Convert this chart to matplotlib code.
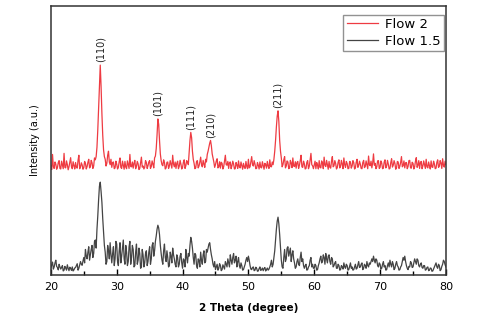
import numpy as np
import matplotlib
matplotlib.use("Agg")
import matplotlib.pyplot as plt
from matplotlib.ticker import MultipleLocator

# 2 theta grid, 0.125 degree step from 20 to 80
two_theta = np.linspace(20, 80, 481)

# Flow 2 (red, offset upwards), one row = 5 degrees
flow_2 = [
    40.5, 39.2, 44.8, 40.1, 39.6, 42.0, 41.2, 39.3, 40.0, 41.8, 42.5, 39.6, 39.4, 42.3, 40.8, 39.5, 45.2, 40.0, 39.8, 42.4,
    41.0, 39.1, 40.2, 41.9, 43.6, 40.3, 39.5, 42.1, 40.6, 39.4, 41.8, 40.0, 39.7, 42.6, 44.5, 39.5, 40.1, 41.7, 40.9, 39.3,
    39.9, 42.2, 41.5, 39.4, 40.3, 41.9, 43.0, 39.8, 40.2, 42.6, 41.7, 39.6, 40.5, 43.5, 42.8, 44.0, 47.5, 54.0, 62.0, 71.0,
    78.0, 70.0, 60.0, 52.0, 46.5, 44.0, 43.0, 40.5, 41.5, 44.5, 46.0, 42.0, 41.0, 43.0, 40.0, 41.8, 42.0, 39.5, 39.8, 42.3,
    41.2, 39.4, 40.0, 42.1, 43.5, 40.0, 39.6, 42.3, 40.8, 39.3, 42.2, 40.1, 39.5, 42.4, 41.0, 39.6, 44.8, 40.3, 40.2, 42.0,
    39.7, 41.5, 42.6, 39.5, 40.4, 42.2, 41.3, 39.2, 39.6, 41.8, 43.8, 40.1, 40.5, 39.4, 40.0, 42.5, 41.8, 39.6, 40.6, 42.0,
    42.5, 39.6, 40.3, 42.4, 41.2, 39.8, 43.5, 44.2, 47.0, 52.0, 58.0, 56.0, 50.0, 45.0, 42.5, 41.0, 40.6, 42.8, 41.8, 39.4,
    39.8, 41.9, 42.0, 39.6, 40.5, 42.5, 41.0, 39.7, 44.5, 41.2, 40.2, 42.0, 39.6, 41.5, 42.3, 39.5, 40.4, 42.6, 41.2, 39.4,
    40.0, 41.9, 42.8, 39.6, 40.6, 42.5, 42.0, 41.0, 45.5, 50.0, 53.0, 51.0, 46.0, 43.0, 41.5, 39.5, 39.8, 42.2, 42.5, 39.8,
    40.5, 42.0, 43.8, 41.0, 40.2, 42.6, 41.2, 40.0, 43.0, 42.0, 44.8, 46.0, 47.5, 49.0, 50.0, 48.0, 45.0, 43.5, 42.0, 40.0,
    41.0, 42.4, 43.2, 39.8, 40.2, 42.1, 39.7, 41.9, 41.5, 39.4, 40.3, 42.3, 44.5, 41.0, 40.8, 42.2, 39.6, 41.8, 42.0, 39.5,
    40.6, 42.3, 41.3, 39.4, 39.5, 41.8, 40.9, 39.6, 42.4, 40.2, 39.8, 42.0, 40.6, 39.3, 41.5, 40.1, 39.6, 42.2, 40.3, 39.5,
    43.0, 39.8, 40.2, 42.0, 44.0, 41.0, 40.5, 42.5, 41.2, 39.5, 39.6, 41.8, 40.8, 39.4, 42.0, 40.0, 39.8, 42.1, 40.6, 39.3,
    41.5, 41.0, 39.7, 42.2, 40.5, 39.6, 42.8, 40.3, 40.2, 42.0, 41.0, 43.0, 46.0, 50.0, 55.0, 59.0, 61.0, 57.0, 50.0, 46.0,
    43.5, 40.2, 41.0, 42.8, 44.0, 39.8, 40.5, 42.4, 42.0, 39.5, 39.8, 42.6, 41.6, 39.9, 43.5, 40.5, 40.3, 42.1, 39.7, 41.8,
    42.2, 39.6, 40.8, 42.5, 44.5, 40.2, 40.0, 42.3, 41.3, 39.4, 39.6, 41.9, 42.5, 39.5, 40.4, 42.7, 45.2, 41.0, 40.6, 39.5,
    41.0, 42.3, 39.5, 41.8, 40.8, 39.4, 42.5, 40.0, 39.8, 42.4, 41.6, 39.5, 43.8, 40.8, 40.3, 42.6, 41.0, 39.3, 42.2, 40.0,
    39.7, 42.3, 44.0, 40.2, 40.6, 42.5, 41.5, 39.4, 39.9, 41.9, 42.8, 39.8, 40.4, 42.6, 41.2, 39.5, 43.5, 41.0, 40.0, 42.2,
    41.4, 39.5, 39.6, 42.2, 42.0, 39.7, 40.5, 42.5, 41.8, 39.4, 39.8, 41.9, 43.0, 40.0, 40.7, 42.3, 41.2, 39.6, 39.5, 41.8,
    42.6, 39.9, 40.3, 42.4, 41.0, 39.5, 44.2, 41.0, 40.6, 42.3, 39.8, 41.6, 45.0, 40.8, 41.5, 39.5, 40.2, 42.4, 42.5, 39.6,
    40.0, 42.4, 41.6, 39.5, 39.7, 42.0, 42.8, 39.8, 40.5, 42.6, 41.2, 39.4, 39.6, 41.8, 43.2, 40.1, 40.8, 42.5, 41.5, 39.3,
    39.9, 42.2, 42.0, 39.6, 40.4, 41.9, 44.0, 40.2, 40.6, 42.4, 39.8, 41.7, 41.8, 39.5, 40.3, 42.5, 42.6, 39.8, 39.7, 41.9,
    41.5, 39.4, 40.2, 42.3, 43.6, 40.0, 40.8, 42.5, 39.6, 41.8, 42.2, 39.5, 40.5, 42.4, 41.0, 39.6, 43.0, 40.2, 39.8, 42.0,
    40.6, 39.4, 42.4, 40.1, 40.0, 42.3, 41.3, 39.5, 39.7, 41.9, 42.8, 40.0, 40.4, 42.5, 41.6, 39.6, 43.2, 40.8, 40.1, 42.3,
    41.0,
]

# Flow 1.5 (dark grey)
flow_15 = [
    2.5, 3.8, 4.8, 2.2, 3.0, 4.5, 5.5, 3.2, 2.8, 1.9, 4.0, 3.0, 2.2, 2.8, 3.5, 1.5, 1.8, 3.2, 2.6, 1.8,
    3.8, 2.5, 1.6, 2.9, 2.4, 1.7, 3.0, 1.5, 1.9, 2.6, 2.8, 3.5, 4.2, 1.8, 2.5, 3.8, 5.0, 4.0, 3.6, 5.2,
    6.5, 4.5, 9.5, 7.0, 6.0, 8.5, 10.5, 5.5, 7.5, 9.5, 11.0, 6.5, 8.0, 12.5, 13.0, 10.0, 17.0, 22.0, 28.0, 33.0,
    34.5, 31.0, 27.0, 21.0, 16.0, 11.0, 8.5, 4.0, 5.0, 11.0, 9.0, 6.0, 12.0, 7.5, 4.5, 8.0, 10.5, 3.5, 6.0, 12.5,
    11.5, 5.0, 3.5, 9.0, 12.0, 4.5, 7.0, 10.0, 13.0, 6.0, 4.0, 11.0, 8.5, 3.5, 5.0, 10.5, 12.5, 4.0, 6.5, 11.0,
    9.5, 3.0, 3.5, 8.5, 11.5, 4.0, 5.5, 10.0, 8.0, 2.5, 3.0, 9.5, 7.5, 3.0, 4.5, 8.0, 9.0, 3.5, 5.0, 8.5,
    10.5, 4.0, 6.0, 11.0, 12.0, 7.0, 9.0, 12.5, 14.5, 17.0, 18.5, 17.5, 15.0, 11.0, 8.0, 5.5, 4.0, 9.0, 11.5, 6.5,
    5.0, 9.0, 6.5, 3.0, 3.5, 8.5, 7.0, 4.5, 10.0, 7.5, 6.0, 4.0, 3.0, 7.5, 6.5, 3.0, 4.0, 7.0, 8.0, 4.5,
    2.5, 6.0, 5.5, 3.0, 9.5, 6.5, 4.5, 8.0, 7.0, 11.0, 14.0, 12.5, 10.0, 6.5, 4.0, 8.0, 7.5, 3.5, 2.5, 6.0,
    5.5, 3.0, 8.5, 5.5, 4.0, 7.5, 9.0, 4.5, 5.0, 9.5, 8.5, 10.0, 11.5, 12.0, 9.5, 7.5, 6.0, 4.0, 3.0, 5.0,
    2.0, 3.0, 4.0, 1.8, 2.5, 4.2, 3.5, 1.6, 2.0, 3.8, 3.0, 2.2, 5.0, 4.0, 3.0, 6.0, 4.5, 3.0, 7.5, 5.5,
    4.0, 6.5, 8.0, 4.5, 5.5, 7.0, 3.0, 5.0, 6.5, 3.5, 2.5, 4.5, 3.5, 1.8, 2.0, 3.0, 4.0, 5.5, 6.5, 5.0,
    7.0, 5.5, 3.5, 2.2, 2.0, 2.8, 3.0, 1.6, 1.8, 2.9, 2.5, 1.4, 1.5, 2.4, 3.0, 1.7, 2.0, 2.6, 1.6, 2.4,
    2.8, 1.5, 2.0, 2.6, 1.8, 2.2, 3.0, 4.0, 5.5, 3.0, 4.0, 6.5, 9.0, 13.0, 17.0, 20.0, 21.5, 19.0, 15.0, 10.0,
    5.5, 3.0, 2.5, 6.5, 9.5, 5.0, 6.0, 10.0, 10.5, 7.0, 8.5, 10.0, 5.0, 7.5, 9.0, 6.0, 4.5, 2.5, 3.0, 5.0,
    6.0, 4.0, 3.5, 6.5, 8.5, 5.0, 6.0, 3.5, 2.5, 3.5, 4.0, 1.8, 2.0, 3.0, 3.5, 5.5, 6.5, 3.0, 4.0, 2.5,
    2.5, 4.0, 3.5, 1.8, 2.0, 3.5, 4.5, 6.0, 7.0, 4.5, 5.0, 7.5, 6.5, 4.0, 8.0, 6.0, 4.5, 7.0, 7.5, 5.0,
    4.0, 6.5, 6.0, 3.0, 3.5, 4.5, 5.0, 2.5, 2.5, 4.0, 3.5, 1.8, 2.0, 3.5, 3.0, 2.2, 4.5, 3.0, 2.5, 4.0,
    3.5, 1.8, 2.0, 3.2, 4.5, 2.5, 3.0, 1.8, 2.0, 3.0, 4.0, 2.2, 2.5, 3.8, 5.0, 2.8, 3.0, 4.0, 4.5, 2.0,
    2.5, 4.0, 3.5, 2.5, 5.0, 3.5, 3.0, 4.5, 4.0, 5.0, 6.0, 5.0, 7.0, 5.5, 4.5, 6.0, 5.5, 3.5, 3.0, 4.5,
    4.0, 2.2, 2.5, 4.0, 5.0, 3.0, 3.5, 1.8, 2.0, 3.5, 4.5, 3.0, 5.5, 4.0, 3.0, 5.0, 4.0, 2.0, 2.5, 4.0,
    5.0, 3.5, 3.0, 1.8, 2.0, 3.0, 3.5, 5.0, 6.5, 5.5, 7.0, 5.0, 3.5, 2.5, 2.0, 3.2, 3.0, 5.0, 4.5, 2.8,
    3.0, 4.5, 6.0, 5.0, 4.0, 6.0, 5.5, 3.5, 3.0, 4.0, 4.5, 2.8, 2.5, 3.5, 3.5, 1.8, 2.0, 2.8, 3.0, 1.6,
    1.8, 2.6, 2.5, 1.4, 1.5, 2.2, 3.0, 3.8, 4.5, 3.0, 2.5, 4.0, 3.5, 1.6, 2.0, 3.2, 4.0, 5.5, 5.0, 3.8,
    3.0,
]

# peak labels (Miller indices) on the Flow 2 trace
peak_pos = [27.5, 36.25, 41.25, 44.25, 54.5]
peak_top = [78.0, 58.0, 53.0, 50.0, 61.0]
peak_labels = ["(110)", "(101)", "(111)", "(210)", "(211)"]

fig = plt.figure(figsize=(4.8, 3.27), dpi=100)
ax = fig.add_axes([0.106, 0.159, 0.823, 0.823])

ax.plot(two_theta, flow_2, color="#ee3b42", lw=0.9, label="Flow 2")
ax.plot(two_theta, flow_15, color="#444444", lw=0.9, label="Flow 1.5")

for xp, yp, lab in zip(peak_pos, peak_top, peak_labels):
    ax.annotate(lab, (xp, yp), xytext=(0, 2), textcoords="offset points",
                rotation=90, ha="center", va="bottom", fontsize=7, color="#222222")

ax.set_xlim(20, 80)
ax.set_ylim(0, 100)
ax.xaxis.set_major_locator(MultipleLocator(10))
ax.xaxis.set_minor_locator(MultipleLocator(5))
ax.tick_params(axis="x", which="major", direction="in", length=4, width=1, labelsize=8, pad=5)
ax.tick_params(axis="x", which="minor", direction="in", length=3, width=1)
ax.set_yticks([])
for s in ax.spines.values():
    s.set_linewidth(1.1)
    s.set_color("#333333")

ax.set_xlabel("2 Theta (degree)", fontsize=7.5, fontweight="bold", labelpad=8)
ax.set_ylabel("Intensity (a.u.)", fontsize=7, labelpad=8)

leg = ax.legend(loc="upper right", bbox_to_anchor=(1.0, 0.975), fontsize=9.5,
                fancybox=False, edgecolor="#777777", handlelength=2.4,
                borderpad=0.25, labelspacing=0.3, handletextpad=0.5, borderaxespad=0.15)
leg.get_frame().set_linewidth(1.0)

fig.savefig("out.png", dpi=100)
